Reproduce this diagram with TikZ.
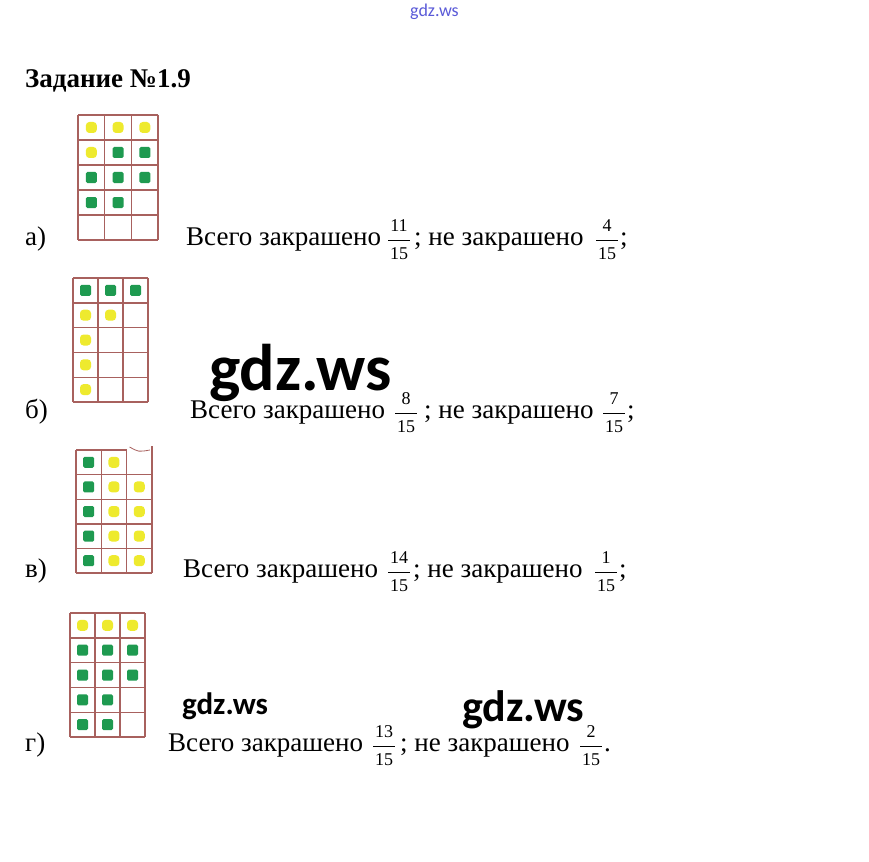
\documentclass[tikz,border=0pt]{standalone}
\usepackage{fontspec}
\setmainfont{Liberation Serif}
\newfontfamily\wmfont{Carlito}
\usetikzlibrary{calc}

\definecolor{gridred}{HTML}{A8615E}
\definecolor{cellyel}{HTML}{EEEA2E}
\definecolor{cellgrn}{HTML}{1E9A50}
\definecolor{wmblue}{HTML}{5A5AD8}

\tikzset{
  gridline/.style={draw=gridred, line width=1.4pt},
  yel/.style={fill=cellyel, rounded corners=3.5pt},
  grn/.style={fill=cellgrn, rounded corners=1.5pt},
  txt/.style={anchor=base west, inner sep=0pt, font=\fontsize{27}{30}\selectfont},
  frc/.style={anchor=base, inner sep=0pt, font=\fontsize{18}{20}\selectfont},
  wm/.style={anchor=base west, inner sep=0pt},
}

% 3 x 5 grid at the scope origin, cells \cw by \ch
\def\cellgrid{
  \foreach \gi in {0,...,3} \draw[gridline] ({\gi*\cw},0) -- ({\gi*\cw},{5*\ch});
  \foreach \gj in {0,...,5} \draw[gridline] (0,{\gj*\ch}) -- ({3*\cw},{\gj*\ch});
}
% coloured square in column #2, row #3
\def\paint[#1](#2,#3){\fill[#1] ({(#2+0.5)*\cw-5.5},{(#3+0.5)*\ch-5.5}) rectangle ++(11,11);}
% fraction with text digits
\newcommand\fr[2]{$\displaystyle\frac{\hbox{\raisebox{2pt}{#1}}}{\hbox{\kern2pt\raisebox{-3pt}{#2}\kern2pt}}$}

\begin{document}
\begin{tikzpicture}[x=1pt,y=-1pt]
			%%%%% START %%%%%
			\fill[white] (0,0) rectangle (869,861);
			\useasboundingbox (0,0) rectangle (869,861);

			\node[txt, font=\bfseries\fontsize{27}{30}\selectfont] (title) at (25,88) {Задание №1.9};

			% a)
			\begin{scope}[shift={(78,115)}]
				\def\cw{26.7}\def\ch{25}
				\cellgrid
				\paint[yel](0,0) \paint[yel](1,0) \paint[yel](2,0) \paint[yel](0,1)
				\paint[grn](1,1) \paint[grn](2,1)
				\paint[grn](0,2) \paint[grn](1,2) \paint[grn](2,2)
				\paint[grn](0,3) \paint[grn](1,3)
			\end{scope}
			\node[txt] (la) at (25,245) {а)};
			\node[txt] (sa) at (186,245) {Всего закрашено};
			\node[frc] (fa) at (399,245) {\fr{11}{15}};
			\node[txt] (na) at (414,245) {; не закрашено};
			\node[frc] (ga) at (607,245) {\fr{4}{15}};
			\node[txt] (ea) at (620,245) {;};

			% b)
			\begin{scope}[shift={(73,278)}]
				\def\cw{25}\def\ch{24.8}
				\cellgrid
				\paint[grn](0,0) \paint[grn](1,0) \paint[grn](2,0)
				\paint[yel](0,1) \paint[yel](1,1)
				\paint[yel](0,2) \paint[yel](0,3) \paint[yel](0,4)
			\end{scope}
			\node[txt] (lb) at (25,418) {б)};
			\node[txt] (sb) at (190,418) {Всего закрашено};
			\node[frc] (fb) at (406,418) {\fr{8}{15}};
			\node[txt] (nb) at (424,418) {; не закрашено};
			\node[frc] (gb) at (614,418) {\fr{7}{15}};
			\node[txt] (eb) at (627,418) {;};

			% v)
			\begin{scope}[shift={(76,450)}]
				\def\cw{25.3}\def\ch{24.6}
				\foreach \gi in {0,...,2} \draw[gridline] ({\gi*\cw},0) -- ({\gi*\cw},{5*\ch});
				\draw[gridline] ({3*\cw},-4) -- ({3*\cw},{5*\ch});
				\foreach \gj in {1,...,5} \draw[gridline] (0,{\gj*\ch}) -- ({3*\cw},{\gj*\ch});
				\draw[gridline] (0,0) -- ({2*\cw},0);
				\draw[gridline, line width=0.8pt] ({2*\cw+3},-3) .. controls ({2*\cw+12},2) .. ({3*\cw-2},0);
				\foreach \gj in {0,...,4} {\paint[grn](0,\gj) \paint[yel](1,\gj)}
				\foreach \gj in {1,...,4} {\paint[yel](2,\gj)}
			\end{scope}
			\node[txt] (lv) at (25,577) {в)};
			\node[txt] (sv) at (183,577) {Всего закрашено};
			\node[frc] (fv) at (399,577) {\fr{14}{15}};
			\node[txt] (nv) at (413,577) {; не закрашено};
			\node[frc] (gv) at (606,577) {\fr{1}{15}};
			\node[txt] (ev) at (619,577) {;};

			% g)
			\begin{scope}[shift={(70,613)}]
				\def\cw{25}\def\ch{24.8}
				\cellgrid
				\paint[yel](0,0) \paint[yel](1,0) \paint[yel](2,0)
				\paint[grn](0,1) \paint[grn](1,1) \paint[grn](2,1)
				\paint[grn](0,2) \paint[grn](1,2) \paint[grn](2,2)
				\paint[grn](0,3) \paint[grn](1,3)
				\paint[grn](0,4) \paint[grn](1,4)
			\end{scope}
			\node[txt] (lg) at (25,751) {г)};
			\node[txt] (sg) at (168,751) {Всего закрашено};
			\node[frc] (fg) at (384,751) {\fr{13}{15}};
			\node[txt] (ng) at (400,751) {; не закрашено};
			\node[frc] (gg) at (591,751) {\fr{2}{15}};
			\node[txt] (eg) at (604,751) {.};

			% watermarks
			\node[wm, text=wmblue, font=\wmfont\fontsize{18}{20}\selectfont] (wtop) at (410,17) {gdz.ws};
			\node[wm, font=\wmfont\bfseries\fontsize{66}{72}\selectfont] (wbig) at (209,390) {gdz.ws};
			\node[wm, font=\wmfont\bfseries\fontsize{31}{34}\selectfont] (wone) at (182,714) {gdz.ws};
			\node[wm, font=\wmfont\bfseries\fontsize{44}{48}\selectfont] (wtwo) at (462,721) {gdz.ws};
			%%%%% END %%%%%
\end{tikzpicture}
\end{document}
